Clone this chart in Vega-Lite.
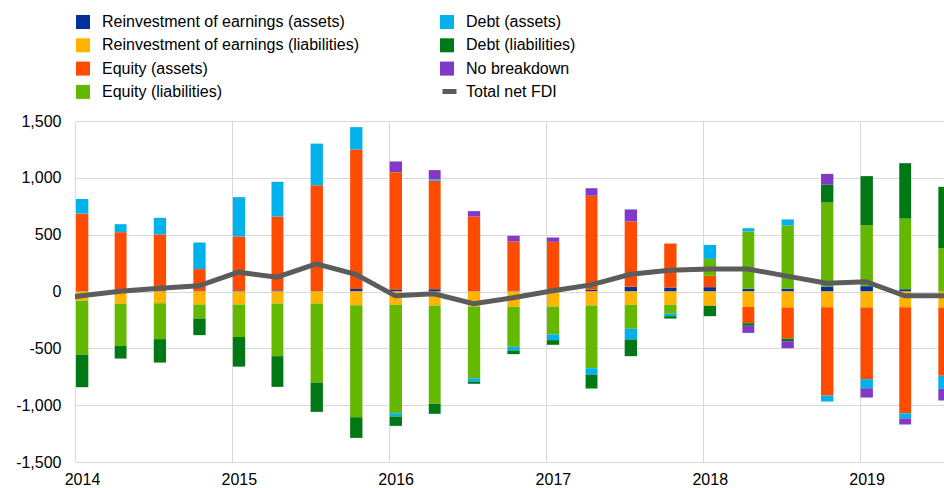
{
  "$schema": "https://vega.github.io/schema/vega-lite/v6.json",
  "width": 869,
  "height": 341,
  "autosize": {"type": "none"},
  "padding": {"left": 75, "top": 121, "right": 0, "bottom": 26},
  "background": "white",
  "config": {
    "font": "Liberation Sans",
    "view": {"stroke": null},
    "axis": {"labelFont": "Liberation Sans", "labelFontSize": 16, "labelColor": "#000000", "ticks": false, "domain": false, "grid": true, "gridColor": "#d9d9d9", "gridWidth": 1, "title": null},
    "legend": {"labelFont": "Liberation Sans", "labelFontSize": 16, "labelColor": "#000000", "labelLimit": 400, "title": null, "padding": 0}
  },
  "data": {
    "values": [
      {"date": "2013-10-01", "Total net FDI": -80},
      {"date": "2014-01-01", "Reinvestment of earnings (assets)": 5, "Reinvestment of earnings (liabilities)": -80, "Equity (assets)": 680, "Equity (liabilities)": -475, "Debt (assets)": 129, "Debt (liabilities)": -287, "No breakdown": 0, "Total net FDI": -38},
      {"date": "2014-04-01", "Reinvestment of earnings (assets)": 5, "Reinvestment of earnings (liabilities)": -108, "Equity (assets)": 517, "Equity (liabilities)": -370, "Debt (assets)": 70, "Debt (liabilities)": -112, "No breakdown": 0, "Total net FDI": 2},
      {"date": "2014-07-01", "Reinvestment of earnings (assets)": 5, "Reinvestment of earnings (liabilities)": -103, "Equity (assets)": 497, "Equity (liabilities)": -316, "Debt (assets)": 146, "Debt (liabilities)": -206, "No breakdown": 0, "Total net FDI": 28},
      {"date": "2014-10-01", "Reinvestment of earnings (assets)": 5, "Reinvestment of earnings (liabilities)": -114, "Equity (assets)": 192, "Equity (liabilities)": -124, "Debt (assets)": 234, "Debt (liabilities)": -146, "No breakdown": 0, "Total net FDI": 50},
      {"date": "2015-01-01", "Reinvestment of earnings (assets)": 10, "Reinvestment of earnings (liabilities)": -115, "Equity (assets)": 474, "Equity (liabilities)": -285, "Debt (assets)": 346, "Debt (liabilities)": -261, "No breakdown": 0, "Total net FDI": 170},
      {"date": "2015-04-01", "Reinvestment of earnings (assets)": 10, "Reinvestment of earnings (liabilities)": -106, "Equity (assets)": 650, "Equity (liabilities)": -463, "Debt (assets)": 305, "Debt (liabilities)": -270, "No breakdown": 0, "Total net FDI": 126},
      {"date": "2015-07-01", "Reinvestment of earnings (assets)": 5, "Reinvestment of earnings (liabilities)": -106, "Equity (assets)": 930, "Equity (liabilities)": -695, "Debt (assets)": 366, "Debt (liabilities)": -258, "No breakdown": 0, "Total net FDI": 243},
      {"date": "2015-10-01", "Reinvestment of earnings (assets)": 23, "Reinvestment of earnings (liabilities)": -120, "Equity (assets)": 1226, "Equity (liabilities)": -986, "Debt (assets)": 197, "Debt (liabilities)": -182, "No breakdown": 0, "Total net FDI": 152},
      {"date": "2016-01-01", "Reinvestment of earnings (assets)": 18, "Reinvestment of earnings (liabilities)": -117, "Equity (assets)": 1032, "Equity (liabilities)": -954, "Debt (assets)": -29, "Debt (liabilities)": -82, "No breakdown": 94, "Total net FDI": -38},
      {"date": "2016-04-01", "Reinvestment of earnings (assets)": 20, "Reinvestment of earnings (liabilities)": -123, "Equity (assets)": 954, "Equity (liabilities)": -865, "Debt (assets)": 12, "Debt (liabilities)": -88, "No breakdown": 82, "Total net FDI": -20},
      {"date": "2016-07-01", "Reinvestment of earnings (assets)": 5, "Reinvestment of earnings (liabilities)": -132, "Equity (assets)": 655, "Equity (liabilities)": -631, "Debt (assets)": -29, "Debt (liabilities)": -20, "No breakdown": 47, "Total net FDI": -108},
      {"date": "2016-10-01", "Reinvestment of earnings (assets)": 5, "Reinvestment of earnings (liabilities)": -135, "Equity (assets)": 435, "Equity (liabilities)": -352, "Debt (assets)": -32, "Debt (liabilities)": -32, "No breakdown": 50, "Total net FDI": -55},
      {"date": "2017-01-01", "Reinvestment of earnings (assets)": 5, "Reinvestment of earnings (liabilities)": -132, "Equity (assets)": 432, "Equity (liabilities)": -246, "Debt (assets)": -50, "Debt (liabilities)": -41, "No breakdown": 38, "Total net FDI": 6},
      {"date": "2017-04-01", "Reinvestment of earnings (assets)": 15, "Reinvestment of earnings (liabilities)": -123, "Equity (assets)": 827, "Equity (liabilities)": -552, "Debt (assets)": -58, "Debt (liabilities)": -120, "No breakdown": 67, "Total net FDI": 58},
      {"date": "2017-07-01", "Reinvestment of earnings (assets)": 41, "Reinvestment of earnings (liabilities)": -117, "Equity (assets)": 575, "Equity (liabilities)": -211, "Debt (assets)": -94, "Debt (liabilities)": -147, "No breakdown": 106, "Total net FDI": 152},
      {"date": "2017-10-01", "Reinvestment of earnings (assets)": 35, "Reinvestment of earnings (liabilities)": -117, "Equity (assets)": 387, "Equity (liabilities)": -79, "Debt (assets)": -21, "Debt (liabilities)": -21, "No breakdown": 0, "Total net FDI": 187},
      {"date": "2018-01-01", "Reinvestment of earnings (assets)": 38, "Reinvestment of earnings (liabilities)": -126, "Equity (assets)": 100, "Equity (liabilities)": 149, "Debt (assets)": 123, "Debt (liabilities)": -91, "No breakdown": 0, "Total net FDI": 198},
      {"date": "2018-04-01", "Reinvestment of earnings (assets)": 23, "Reinvestment of earnings (liabilities)": -135, "Equity (assets)": -144, "Equity (liabilities)": 505, "Debt (assets)": 29, "Debt (liabilities)": -23, "No breakdown": -62, "Total net FDI": 198},
      {"date": "2018-07-01", "Reinvestment of earnings (assets)": 26, "Reinvestment of earnings (liabilities)": -141, "Equity (assets)": -273, "Equity (liabilities)": 555, "Debt (assets)": 53, "Debt (liabilities)": -23, "No breakdown": -62, "Total net FDI": 135},
      {"date": "2018-10-01", "Reinvestment of earnings (assets)": 44, "Reinvestment of earnings (liabilities)": -138, "Equity (assets)": -777, "Equity (liabilities)": 739, "Debt (assets)": -53, "Debt (liabilities)": 156, "No breakdown": 96, "Total net FDI": 72},
      {"date": "2019-01-01", "Reinvestment of earnings (assets)": 47, "Reinvestment of earnings (liabilities)": -141, "Equity (assets)": -630, "Equity (liabilities)": 537, "Debt (assets)": -80, "Debt (liabilities)": 431, "No breakdown": -82, "Total net FDI": 86},
      {"date": "2019-04-01", "Reinvestment of earnings (assets)": 20, "Reinvestment of earnings (liabilities)": -138, "Equity (assets)": -933, "Equity (liabilities)": 622, "Debt (assets)": -46, "Debt (liabilities)": 487, "No breakdown": -53, "Total net FDI": -38},
      {"date": "2019-07-01", "Reinvestment of earnings (assets)": 5, "Reinvestment of earnings (liabilities)": -141, "Equity (assets)": -601, "Equity (liabilities)": 376, "Debt (assets)": -114, "Debt (liabilities)": 540, "No breakdown": -103, "Total net FDI": -38}
    ]
  },
  "layer": [
    {
      "transform": [
        {"fold": ["Reinvestment of earnings (assets)", "Reinvestment of earnings (liabilities)", "Equity (assets)", "Equity (liabilities)", "Debt (assets)", "Debt (liabilities)", "No breakdown"], "as": ["series", "value"]},
        {"filter": "isValid(datum.value)"},
        {"lookup": "series", "from": {"data": {"values": [
          {"series": "Reinvestment of earnings (assets)", "rank": 1},
          {"series": "Reinvestment of earnings (liabilities)", "rank": 2},
          {"series": "Equity (assets)", "rank": 3},
          {"series": "Equity (liabilities)", "rank": 4},
          {"series": "Debt (assets)", "rank": 5},
          {"series": "Debt (liabilities)", "rank": 6},
          {"series": "No breakdown", "rank": 7}
        ]}, "key": "series", "fields": ["rank"]}}
      ],
      "mark": {"type": "bar", "clip": true},
      "encoding": {
        "x": {
          "field": "date", "timeUnit": "utcyearmonth", "type": "temporal",
          "scale": {"type": "utc", "nice": false, "domain": [{"year": 2014, "month": 1, "date": 1, "utc": true}, {"year": 2019, "month": 7, "date": 16, "hours": 12, "utc": true}]},
          "axis": {"format": "%Y", "tickCount": {"interval": "year", "step": 1}, "labelOffset": 7, "labelPadding": 9, "labelFlush": false}
        },
        "y": {
          "field": "value", "type": "quantitative", "stack": "zero",
          "scale": {"domain": [-1500, 1500], "nice": false},
          "axis": {"values": [-1500, -1000, -500, 0, 500, 1000, 1500], "labelExpr": "replace(format(datum.value, ','), '\u2212', '-')", "labelPadding": 14}
        },
        "color": {
          "field": "series", "type": "nominal",
          "scale": {
            "domain": ["Reinvestment of earnings (assets)", "Reinvestment of earnings (liabilities)", "Equity (assets)", "Equity (liabilities)", "Debt (assets)", "Debt (liabilities)", "No breakdown"],
            "range": ["#003299", "#FFB400", "#FF4B00", "#65B800", "#00B1EA", "#007816", "#8139C6"]
          },
          "legend": {
            "orient": "none", "legendX": 0, "legendY": -107, "columns": 2, "columnPadding": 80, "rowPadding": 7.3,
            "symbolType": "square", "symbolSize": 196, "symbolStrokeWidth": 0, "labelOffset": 11
          }
        },
        "order": {"field": "rank", "type": "quantitative"}
      }
    },
    {
      "mark": {"type": "line", "clip": true, "strokeWidth": 5},
      "encoding": {
        "x": {"field": "date", "timeUnit": "utcyearmonth", "type": "temporal", "bandPosition": 0.5},
        "y": {"field": "Total net FDI", "type": "quantitative", "scale": {"domain": [-1500, 1500], "nice": false}},
        "stroke": {
          "datum": "Total net FDI",
          "scale": {"range": ["#5C5C5C"]},
          "legend": {"orient": "none", "legendX": 365, "legendY": -39, "symbolType": "stroke", "symbolStrokeWidth": 5, "symbolSize": 196, "labelOffset": 7}
        }
      }
    }
  ]
}
